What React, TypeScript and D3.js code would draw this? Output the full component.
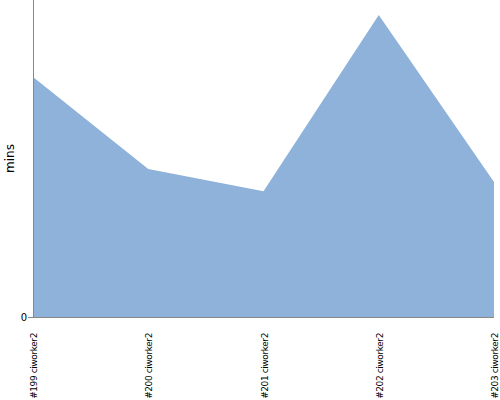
import React from "react";
import * as d3 from "d3";

const categories = ["#199 ciworker2", "#200 ciworker2", "#201 ciworker2", "#202 ciworker2", "#203 ciworker2"];
const values = [7.57, 4.67, 3.97, 9.53, 4.26];
const yMax = 10;
const yTicks = [0];

export default function App() {
  const W = 500, H = 400;
  const left = 33, right = 494, top = 0, bottom = 317;
  const x = d3.scalePoint<string>().domain(categories).range([left, right]);
  const y = d3.scaleLinear().domain([0, yMax]).range([bottom, top]);
  const data = categories.map((c, i) => ({ c, v: values[i] }));
  const area = d3.area<{ c: string; v: number }>()
    .x(d => x(d.c)!)
    .y0(y(0))
    .y1(d => y(d.v));
  const font = "Tahoma, 'DejaVu Sans', Verdana, sans-serif";
  return (
    <svg width={W} height={H} style={{ position: "absolute", left: 0, top: 0 }}>
      <rect width={W} height={H} fill="#fff" />
      <path d={area(data)!} fill="#8fb2db" />
      <line x1={left + 0.5} x2={left + 0.5} y1={top} y2={bottom} stroke="#888" />
      <line x1={left} x2={right} y1={bottom + 0.5} y2={bottom + 0.5} stroke="#888" />
      {yTicks.map(t => (
        <g key={t}>
          <line x1={left - 5} x2={left} y1={y(t) + 0.5} y2={y(t) + 0.5} stroke="#888" />
          <text x={left - 6} y={y(t)} dy="0.35em" textAnchor="end" fontFamily={font} fontSize={10} fill="#000">{t}</text>
        </g>
      ))}
      <text transform={`translate(14,${(top + bottom) / 2}) rotate(-90)`} textAnchor="middle" fontFamily={font} fontSize={12} fill="#000">mins</text>
      {categories.map(c => (
        <text key={c} transform={`translate(${x(c)! + 4},${bottom + 16}) rotate(-90)`} textAnchor="end" fontFamily={font} fontSize={9} letterSpacing={-0.4} fill="#000">{c}</text>
      ))}
    </svg>
  );
}
